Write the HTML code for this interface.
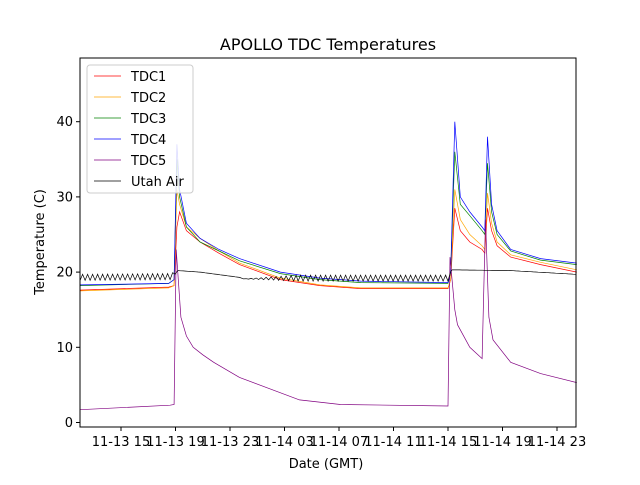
<!DOCTYPE html>
<html><head><meta charset="utf-8"><style>
body{margin:0;background:#fff;}
svg text{font-family:"DejaVu Sans","Liberation Sans",sans-serif;}
</style></head><body>
<svg id="chart" width="640" height="480" xmlns="http://www.w3.org/2000/svg">
<rect width="640" height="480" fill="#fff"/>
<text x="328" y="50" font-size="16" text-anchor="middle">APOLLO TDC Temperatures</text>
<g id="series"></g>
<rect x="80" y="58" width="496" height="369" fill="none" stroke="#000" stroke-width="1"/>
<g id="axes"></g>
<text x="326" y="468" font-size="13" text-anchor="middle">Date (GMT)</text>
<text transform="translate(44,242) rotate(-90)" font-size="13" text-anchor="middle">Temperature (C)</text>
<g>
<rect x="87" y="65" width="106" height="128" rx="3" fill="#fff" fill-opacity="0.85" stroke="#ccc"/>
<g id="legend-items"></g>
</g>
</svg>
<script>
// hours since 11-13 00:00 GMT
const xTickHours = [15,19,23,27,31,35,39,43,47];
const xTickLabels = ["11-13 15","11-13 19","11-13 23","11-14 03","11-14 07","11-14 11","11-14 15","11-14 19","11-14 23"];
const yTicks = [0,10,20,30,40];
const seriesNames = ["TDC1","TDC2","TDC3","TDC4","TDC5","Utah Air"];
const seriesColors = ["#ff0000","#ffa500","#008000","#0000ff","#800080","#000000"];
const tdc1H = [12,18.5,18.9,19.1,19.3,19.8,20.8,22.2,23.7,26.7,29.6,32.6,39.0,39.2,39.5,39.9,40.6,41.5,41.7,41.9,42.2,42.6,43.6,45.8,48.45];
const tdc1V = [17.6,18.0,18.2,26,28,25.5,24,22.5,21,19,18.2,17.8,17.8,19,28.5,25.5,24,23,22.5,28.5,25.5,23.5,22,21,20];
const tdc2H = [12,18.5,18.9,19.1,19.3,19.8,20.8,22.2,23.7,26.7,29.6,32.6,39.0,39.2,39.5,39.9,40.6,41.5,41.7,41.9,42.2,42.6,43.6,45.8,48.45];
const tdc2V = [17.5,17.9,18.2,31,29,26,24.5,22.8,21.2,19.2,18.3,17.9,17.9,19,31,27,25,23.5,23,30.5,26.5,24,22.3,21.3,20.3];
const tdc3H = [12,18.5,18.9,19.1,19.3,19.8,20.8,22.2,23.7,26.7,29.6,32.6,39.0,39.2,39.5,39.9,40.6,41.5,41.7,41.9,42.2,42.6,43.6,45.8,48.45];
const tdc3V = [18.2,18.5,19,35,30,26,24,22.8,21.5,19.8,19,18.6,18.5,20,36,29,27.5,25.5,25,34.5,28,25,22.8,21.6,21];
const tdc4H = [12,18.5,18.9,19.1,19.3,19.8,20.8,22.2,23.7,26.7,29.6,32.6,39.0,39.2,39.5,39.9,40.6,41.5,41.7,41.9,42.2,42.6,43.6,45.8,48.45];
const tdc4V = [18.3,18.5,19,37,31,26.5,24.5,23,21.8,20,19.2,18.8,18.6,20,40,30,28,26,25.5,38,29,25.5,23,21.8,21.2];
const tdc5H = [12,18.6,18.9,19.05,19.4,19.8,20.3,21.0,21.8,23.7,25.9,28.1,31.1,39.0,39.15,39.5,39.7,40.6,41.5,41.75,42.0,42.3,43.6,45.8,48.45];
const tdc5V = [1.7,2.3,2.4,23,14,11.5,10,9,8,6,4.5,3,2.4,2.2,22,15,13,10,8.5,27,14,11,8,6.5,5.3];
const airH = [12,18.6,19.2,20.8,23.7,24.0,28.0,39.0,39.3,43.6,48.45];
const airV = [19.3,19.4,20.2,20.0,19.3,19.1,19.2,19.2,20.3,20.2,19.7];
const airWiggle = [0.4,0.4,0,0,0,0,0.4,0.4,0,0,0];

const L=80,R=576,T=58,B=427;
const xs = h => 121 + (h-15)*13.625;
const ys = v => 422.5 - v*7.52;
const NS="http://www.w3.org/2000/svg";
function mk(tag,attrs,parent){const e=document.createElementNS(NS,tag);for(const k in attrs)e.setAttribute(k,attrs[k]);parent.appendChild(e);return e;}
const axes=document.getElementById('axes');
xTickHours.forEach((h,i)=>{
  const x=xs(h);
  const t=mk('line',{x1:x,x2:x,y1:B,y2:B+4,stroke:'#000'},axes);
  
  
  const tx=mk('text',{x:x,y:B+19,'font-size':13,'text-anchor':'middle'},axes);
  tx.textContent=xTickLabels[i];
  
  
});
yTicks.forEach(v=>{
  const y=ys(v);
  const t=mk('line',{x1:L-4,x2:L,y1:y,y2:y,stroke:'#000'},axes);
  
  
  const tx=mk('text',{x:L-7,y:y+4.5,'font-size':13,'text-anchor':'end'},axes);
  tx.textContent=v;
  
  
});
const sg=document.getElementById('series');
function poly(H,V,color,name,wig){
  let pts=[];
  if(!wig){pts=H.map((h,i)=>xs(h).toFixed(1)+','+ys(V[i]).toFixed(1));}
  else{
    for(let i=0;i<H.length-1;i++){
      const x0=xs(H[i]),x1=xs(H[i+1]);
      for(let x=x0,k=0;x<x1;x+=2.5,k++){
        const f=(x-x0)/(x1-x0);const v=V[i]+(V[i+1]-V[i])*f;const a=wig[i]*(1-f)+wig[i+1]*f;
        pts.push(x.toFixed(1)+','+ys(v+(k%2?a:-a)).toFixed(1));
      }
    }
  }
  const p=mk('polyline',{points:pts.join(' '),fill:'none',stroke:color,'stroke-width':0.7},sg);
  
  
}
poly(tdc1H,tdc1V,seriesColors[0],'tdc1-line');
poly(tdc2H,tdc2V,seriesColors[1],'tdc2-line');
poly(tdc3H,tdc3V,seriesColors[2],'tdc3-line');
poly(tdc4H,tdc4V,seriesColors[3],'tdc4-line');
poly(tdc5H,tdc5V,seriesColors[4],'tdc5-line');
poly(airH,airV,seriesColors[5],'utah-air-line',airWiggle);
const lg=document.getElementById('legend-items');
seriesNames.forEach((n,i)=>{
  const y=76+i*21;
  const l=mk('line',{x1:94,x2:121,y1:y,y2:y,stroke:seriesColors[i],'stroke-width':0.8},lg);
  
  
  const t=mk('text',{x:131,y:y+5,'font-size':13},lg);
  t.textContent=n;
  
  
});
</script>
</body></html>
